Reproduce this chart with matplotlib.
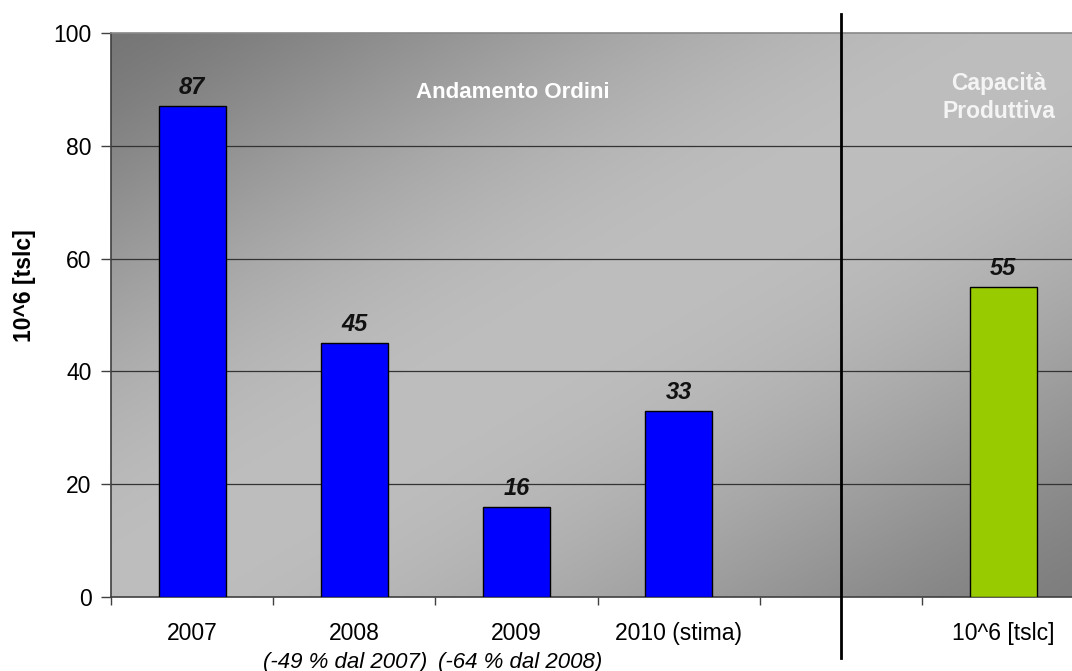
import numpy as np
import matplotlib
matplotlib.use("Agg")
import matplotlib.pyplot as plt
from matplotlib.ticker import FixedLocator, NullFormatter

plt.rcParams['font.family'] = ['Liberation Sans', 'DejaVu Sans']

# Orders trend (blue) and production capacity (green); the empty slot separates them
categories = ['2007', '2008', '2009', '2010 (stima)', '', '10^6 [tslc]']
values = [87, 45, 16, 33, None, 55]
bar_colors = ['#0000FF', '#0000FF', '#0000FF', '#0000FF', None, '#99CC00']
sub_labels = {1: '(-49 % dal 2007)', 2: '(-64 % dal 2008)'}
yticks = [0, 20, 40, 60, 80, 100]

W, H, DPI = 1072, 671, 100
fig = plt.figure(figsize=(W / DPI, H / DPI), dpi=DPI)
fig.patch.set_facecolor('white')

left, right, top, bottom = 111, 1072, 33, 597
ax = fig.add_axes([left / W, 1 - bottom / H, (right - left) / W, (bottom - top) / H])

# Diagonal grey gradient: dark corners top-left / bottom-right, light band across
nx, ny = 400, 240
u = np.linspace(0, 1, nx)[None, :]
v = np.linspace(0, 1, ny)[:, None]
t = (u + v) / 2.0
dark_tl, light, dark_br = 118, 190, 126
s = np.where(t < 0.5, t / 0.5, (1 - t) / 0.5)
s = np.sin(s * np.pi / 2) ** 1.3
g = np.where(t < 0.5,
             dark_tl + (light - dark_tl) * s,
             dark_br + (light - dark_br) * s) / 255.0
img = np.dstack([g, g, g])
ax.imshow(img, extent=[0, 1, 0, 1], transform=ax.transAxes, aspect='auto',
          zorder=0, interpolation='bilinear')

x = np.arange(len(categories))
for xi, val, col in zip(x, values, bar_colors):
    if val is None:
        continue
    ax.bar(xi, val, width=0.413, color=col, edgecolor='black', linewidth=1.0, zorder=3)
    ax.annotate(f'{val}', (xi, val), xytext=(0, 8.6), textcoords='offset points',
                ha='center', va='baseline', fontsize=17, fontweight='bold',
                fontstyle='italic', color='#111111', zorder=4)

ax.set_xlim(-0.5, 5.425)
ax.set_ylim(0, 100)

# Horizontal grid lines
for yv in yticks[1:-1]:
    ax.axhline(yv, color='#333333', linewidth=0.9, zorder=1)

ax.set_yticks(yticks)
ax.set_yticklabels([str(y) for y in yticks])
ax.tick_params(axis='y', length=7, width=1, color='#404040', pad=7, labelsize=16.5,
               direction='out')

ax.set_xticks(x)
ax.set_xticklabels(categories)
ax.tick_params(axis='x', which='major', length=0, pad=18, labelsize=16.5)
ax.xaxis.set_minor_locator(FixedLocator(np.arange(-0.5, 5.0, 1.0)))
ax.xaxis.set_minor_formatter(NullFormatter())
ax.tick_params(axis='x', which='minor', length=6, width=1, color='#404040',
               direction='out')

sub_x = {1: 0.945, 2: 2.02}
for i, txt in sub_labels.items():
    ax.text(sub_x[i], -0.1259, txt, transform=ax.get_xaxis_transform(), ha='center',
            va='baseline', fontsize=16, fontstyle='italic', color='black')

for side in ['left', 'bottom']:
    ax.spines[side].set_color('#404040')
    ax.spines[side].set_linewidth(1.2)
ax.spines['top'].set_color('#888888')
ax.spines['top'].set_linewidth(1.2)
ax.spines['right'].set_visible(False)

# Section titles
ax.text(1.98, 88.5, 'Andamento Ordini', ha='center', va='baseline', fontsize=16,
        fontweight='bold', color='white', zorder=4)
ax.text(4.975, 89.9, 'Capacità', ha='center', va='baseline', fontsize=16.5,
        fontweight='bold', color='#f4f4f4', zorder=4)
ax.text(4.975, 84.9, 'Produttiva', ha='center', va='baseline', fontsize=16.5,
        fontweight='bold', color='#f4f4f4', zorder=4)

# Divider between orders and capacity
ax.plot([4, 4], [1 + 19 / 564, -61 / 564], transform=ax.get_xaxis_transform(),
        color='black', linewidth=2, clip_on=False, zorder=5)

fig.text(24 / W, 1 - 286 / H, '10^6 [tslc]', rotation=90, ha='center', va='center',
         fontsize=16.5, fontweight='bold', color='black')

fig.savefig('out.png', dpi=DPI)
